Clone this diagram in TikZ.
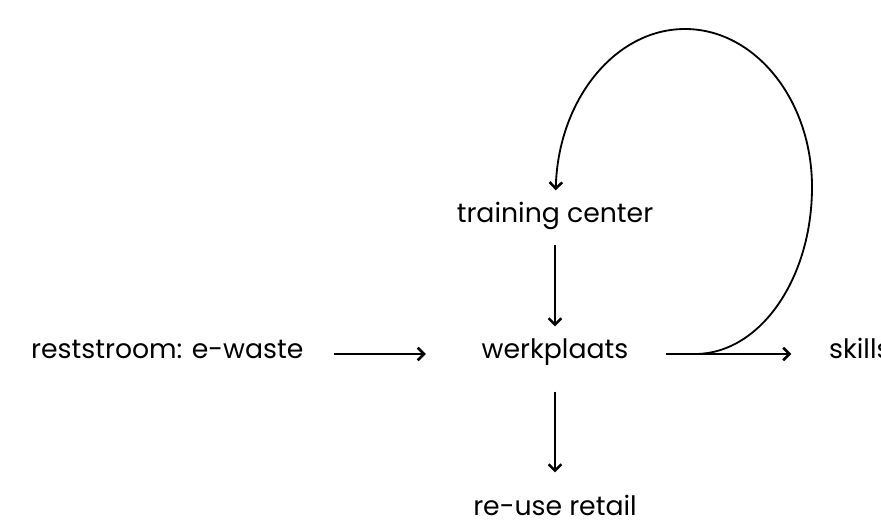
\documentclass[tikz,border=0pt]{standalone}
\usepackage{fontspec}
\setmainfont{Poppins}
\usetikzlibrary{arrows.meta, positioning}

\begin{document}
\begin{tikzpicture}[x=0.025cm, y=-0.025cm, on grid, line width=1.3pt,
    >={Straight Barb[length=4.5pt, width=9pt, line width=1.8pt]},
    txt/.style={inner sep=0pt, font=\fontsize{19}{22}\selectfont, text height=1.5ex, text depth=.25ex}]
\useasboundingbox (0,0) rectangle (881,528);

\node [txt] (werkplaats) at (555,354) {werkplaats};
\node [txt, left = 9.69cm of werkplaats] (reststroom) {reststroom: e-waste};
\node [txt, above = 3.4cm of werkplaats] (training) {training center};
\node [txt, below = 3.925cm of werkplaats] (reuse) {re-use retail};
\node [txt, right = 4.975cm of werkplaats.east, anchor=west] (skills) {skills};
\coordinate [right = 1.675cm of werkplaats.east] (bend);

\draw [->, shorten <=0.75cm, shorten >=1.375cm] (reststroom) -- (werkplaats);
\draw [->, shorten <=0.475cm, shorten >=0.5cm] (training) -- (werkplaats);
\draw [->, shorten <=0.75cm, shorten >=0.775cm] (werkplaats) -- (reuse);
\draw [->, shorten <=0.925cm, shorten >=0.925cm] (werkplaats) -- (skills);

% loop back from the skills arrow to the training center
\draw [->, shorten >=0.5cm] (bend) .. controls (760,353) and (812,279) .. (812,187)
    .. controls (812,100) and (755,29) .. (685,29)
    .. controls (615,29) and (558,100) .. (training);
\end{tikzpicture}
\end{document}
